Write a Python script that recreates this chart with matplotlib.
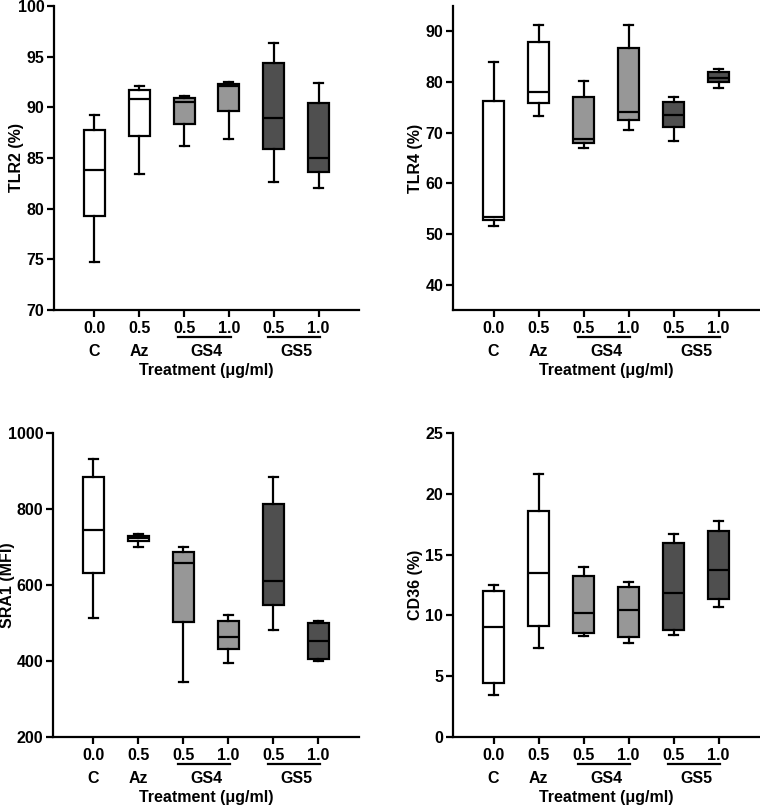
import matplotlib
matplotlib.use('Agg')
import matplotlib.pyplot as plt

plt.rcParams['font.family'] = ['Liberation Sans', 'DejaVu Sans']
plt.rcParams['font.weight'] = 'bold'
plt.rcParams['axes.labelweight'] = 'bold'

# ---- data ----
dose_labels = ['0.0', '0.5', '0.5', '1.0', '0.5', '1.0']
single_labels = ['C', 'Az']
group_labels = ['GS4', 'GS5']
box_colors = ['white', 'white', '#979797', '#979797', '#4f4f4f', '#4f4f4f']

tlr2_min = [74.7, 83.4, 86.2, 86.9, 82.6, 82.0]
tlr2_q1 = [79.3, 87.2, 88.4, 89.6, 85.9, 83.6]
tlr2_med = [83.8, 90.8, 90.5, 92.1, 88.9, 85.0]
tlr2_q3 = [87.8, 91.7, 90.9, 92.3, 94.4, 90.4]
tlr2_max = [89.2, 92.1, 91.1, 92.5, 96.3, 92.4]

tlr4_min = [51.5, 73.2, 67.0, 70.6, 68.3, 78.8]
tlr4_q1 = [52.7, 75.8, 68.0, 72.5, 71.1, 80.0]
tlr4_med = [53.3, 78.1, 68.7, 74.1, 73.4, 80.8]
tlr4_q3 = [76.2, 87.8, 77.1, 86.7, 76.0, 81.9]
tlr4_max = [84.0, 91.2, 80.1, 91.2, 77.1, 82.5]

sra1_min = [513, 701, 344, 396, 481, 400]
sra1_q1 = [632, 716, 503, 432, 547, 404]
sra1_med = [746, 724, 657, 464, 610, 453]
sra1_q3 = [883, 730, 687, 504, 812, 499]
sra1_max = [932, 733, 701, 521, 883, 504]

cd36_min = [3.42, 7.30, 8.29, 7.69, 8.37, 10.67]
cd36_q1 = [4.43, 9.14, 8.59, 8.23, 8.81, 11.32]
cd36_med = [9.03, 13.5, 10.23, 10.45, 11.87, 13.76]
cd36_q3 = [12.0, 18.6, 13.27, 12.34, 15.92, 16.93]
cd36_max = [12.5, 21.6, 14.0, 12.77, 16.66, 17.78]

panels = [
    ('TLR2 (%)', (70, 100), [70, 75, 80, 85, 90, 95, 100],
     tlr2_min, tlr2_q1, tlr2_med, tlr2_q3, tlr2_max),
    ('TLR4 (%)', (35, 95), [40, 50, 60, 70, 80, 90],
     tlr4_min, tlr4_q1, tlr4_med, tlr4_q3, tlr4_max),
    ('SRA1 (MFI)', (200, 1000), [200, 400, 600, 800, 1000],
     sra1_min, sra1_q1, sra1_med, sra1_q3, sra1_max),
    ('CD36 (%)', (0, 25), [0, 5, 10, 15, 20, 25],
     cd36_min, cd36_q1, cd36_med, cd36_q3, cd36_max),
]

fig = plt.figure(figsize=(7.6, 8.07), dpi=100)
W, H = 760.0, 807.0
ax_pos = [
    (54, 6, 305, 304),
    (453, 6, 306, 304),
    (53, 433, 306, 304),
    (453, 433, 306, 304),
]
ylabel_x = [-0.100, -0.098, -0.124, -0.098]

LW = 1.6
FS = 11.5
for (ylabel, ylim, yticks, mn, q1, med, q3, mx), (l, t, w, h), lx in zip(panels, ax_pos, ylabel_x):
    ax = fig.add_axes([l / W, 1 - (t + h) / H, w / W, h / H])
    positions = list(range(1, len(dose_labels) + 1))
    stats = []
    for i in range(len(dose_labels)):
        stats.append(dict(whislo=mn[i], q1=q1[i], med=med[i], q3=q3[i],
                          whishi=mx[i], fliers=[]))
    bp = ax.bxp(stats, positions=positions, widths=0.47, capwidths=0.2,
                patch_artist=True, showfliers=False,
                boxprops=dict(linewidth=LW, edgecolor='black'),
                medianprops=dict(linewidth=LW, color='black'),
                whiskerprops=dict(linewidth=LW, color='black'),
                capprops=dict(linewidth=LW, color='black'))
    for patch, c in zip(bp['boxes'], box_colors):
        patch.set_facecolor(c)

    ax.set_xlim(0.1, 6.9)
    ax.set_ylim(*ylim)
    ax.set_yticks(yticks)
    ax.set_xticks(positions)
    ax.set_xticklabels(dose_labels)
    for s in ['top', 'right']:
        ax.spines[s].set_visible(False)
    for s in ['left', 'bottom']:
        ax.spines[s].set_linewidth(LW)
    ax.tick_params(axis='both', width=LW, length=5, labelsize=FS)
    ax.tick_params(axis='y', pad=2)
    ax.tick_params(axis='x', pad=3)
    ax.set_ylabel(ylabel, fontsize=FS)
    ax.yaxis.set_label_coords(lx, 0.5)

    trans = ax.get_xaxis_transform()
    # single treatment labels
    for x, lab in zip(positions[:2], single_labels):
        ax.text(x, -0.135, lab, transform=trans, ha='center', va='center',
                fontsize=FS, fontweight='bold')
    # grouped treatment labels with underline
    for gi, lab in enumerate(group_labels):
        x0 = positions[2 + 2 * gi]
        x1 = positions[3 + 2 * gi]
        ax.plot([x0 - 0.13, x1 + 0.04], [-0.089, -0.089], transform=trans,
                color='black', linewidth=LW, clip_on=False)
        ax.text((x0 + x1) / 2, -0.135, lab, transform=trans, ha='center',
                va='center', fontsize=FS, fontweight='bold')
    ax.text(3.5, -0.2, 'Treatment (\u03bcg/ml)', transform=trans, ha='center',
            va='center', fontsize=FS, fontweight='bold')

fig.savefig('out.png', dpi=100)
